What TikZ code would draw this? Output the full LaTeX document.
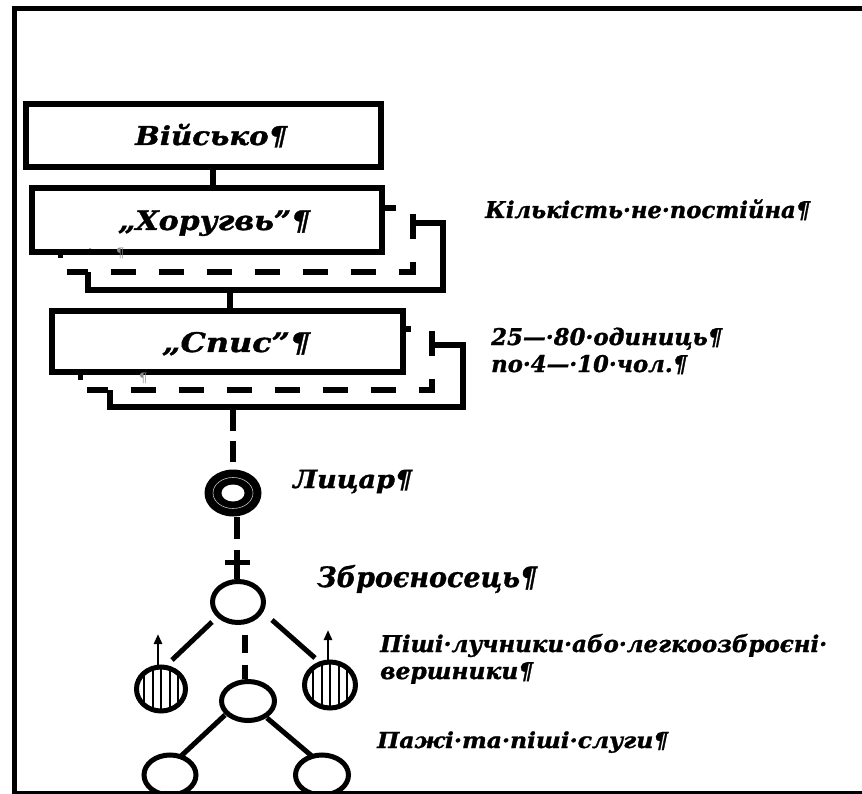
\documentclass[tikz,border=0pt]{standalone}
\usepackage{fontspec}
\setmainfont{DejaVu Serif}
\usetikzlibrary{shapes.geometric,arrows.meta,calc}
\newsavebox\fitbox
\newcommand\fitw[2]{\sbox\fitbox{#2}\pgfmathsetmacro\fitsx{#1/\the\wd\fitbox}\scalebox{\fitsx}[1]{\usebox\fitbox}}
\begin{document}
\begin{tikzpicture}[x=1pt,y=-1pt,
  frame/.style={line width=5pt},
  box/.style={draw, rectangle, line width=6pt, fill=white, inner sep=0pt},
  dfill/.style={rectangle, fill=white, inner sep=0pt},
  dline/.style={line width=5.5pt, dash pattern=on 25pt off 23pt, dash phase=4pt},
  conn/.style={line width=6pt},
  circ/.style={ellipse, draw, line width=5pt, fill=white, inner sep=0pt},
  hatch/.style={circ, path picture={\foreach \dx in {-17,-8.5,0,8.5,17}{\draw[line width=2pt] ([xshift=\dx pt]path picture bounding box.north) -- ([xshift=\dx pt]path picture bounding box.south);}}},
  arr/.style={line width=2.6pt, -{Triangle[length=10pt,width=8pt]}},
  lbl/.style={anchor=base west, inner sep=0pt, font=\bfseries\itshape\addfontfeatures{FakeBold=1.2}},
  fmark/.style={anchor=base west, inner sep=0pt, text=black!45, font=\fontsize{13}{14}\selectfont}
]
\useasboundingbox (0,0) rectangle (862,794);
\fill[white] (0,0) rectangle (862,794);

% frame
\draw[frame] (862,9) -- (14,9) -- (14,792);

% Військо
\node[box, minimum width=355pt, minimum height=63pt] (vijsko) at (203.5,135.5) {};
\node[lbl] (tvijsko) at (135,145) {\fontsize{26}{28}\selectfont\fitw{152}{Військо¶}};

% Хоругвь group
\node[box, minimum width=355pt, minimum height=67pt] (khorB) at (265.5,256.5) {};
\node[dfill, minimum width=346pt, minimum height=64pt] (khorD) at (240,240) {};
\draw[dline] (khorD.south west) -- (khorD.south east) -- (khorD.north east) -- (khorD.north west);
\node[box, minimum width=350pt, minimum height=64pt] (khorF) at (207,220) {};
\node[lbl] (tkhor) at (118,230) {\fontsize{27}{29}\selectfont\fitw{192}{„Хоругвь”¶}};
\node[fmark] (mkhor) at (116,258) {¶};
\fill (58,253) rectangle (63,258);
\fill (90,251) circle (2.5);

% Спис group
\node[box, minimum width=353pt, minimum height=62pt] (spisB) at (286.5,376) {};
\node[dfill, minimum width=345pt, minimum height=61pt] (spisD) at (259.5,359.5) {};
\draw[dline] (spisD.south west) -- (spisD.south east) -- (spisD.north east) -- (spisD.north west);
\node[box, minimum width=351pt, minimum height=61pt] (spisF) at (227.5,341.5) {};
\node[lbl] (tspis) at (162,352) {\fontsize{27}{29}\selectfont\fitw{148}{„Спис”¶}};
\node[fmark] (mspis) at (139,382) {¶};
\fill (78,375) rectangle (83,380);
\fill (112,372) circle (2.5);

% vertical connectors between boxes
\coordinate (c1) at (213,0);
\coordinate (c2) at (230,0);
\draw[conn] (vijsko.south -| c1) -- (khorF.north -| c1);
\draw[conn] (khorB.south -| c2) -- (spisF.north -| c2);

% right labels
\node[lbl] (tkil) at (485,218) {\fontsize{23}{25}\selectfont\fitw{325}{Кількість·не·постійна¶}};
\node[lbl] (t25) at (491,345) {\fontsize{23}{25}\selectfont\fitw{231}{25—·80·одиниць¶}};
\node[lbl] (tpo) at (491,372) {\fontsize{23}{25}\selectfont\fitw{196}{по·4—·10·чол.¶}};

% Лицар
\node[ellipse, fill=black, minimum width=57pt, minimum height=47pt, inner sep=0pt] (lyc) at (233,493) {};
\node[ellipse, draw=white!75!black, line width=0.6pt, minimum width=40pt, minimum height=31pt, inner sep=0pt] (lycring) at (lyc) {};
\node[ellipse, fill=white, minimum width=23pt, minimum height=17pt, inner sep=0pt] (lycin) at (lyc) {};
\node[lbl] (tlyc) at (293,488) {\fontsize{25}{27}\selectfont\fitw{119}{Лицар¶}};
\draw[conn, dash pattern=on 21pt off 10pt] (spisB.south -| lyc) -- (lyc.north);

% Зброєносець
\node[circ, minimum width=51pt, minimum height=41pt] (zbro) at (238,602) {};
\coordinate (crossTop) at (237,550);
\draw[conn, dash pattern=on 22pt off 12pt] (lyc.south -| crossTop) -- (crossTop);
\draw[conn] (crossTop) -- (zbro.north -| crossTop);
\draw[line width=5pt] ($(crossTop)+(-12,12)$) -- ($(crossTop)+(13,12)$);
\node[lbl] (tzbro) at (317,587) {\fontsize{28}{30}\selectfont\fitw{220}{Зброєносець¶}};

% archers
\node[hatch, minimum width=49pt, minimum height=44pt] (archL) at (161,689) {};
\node[hatch, minimum width=51pt, minimum height=46pt] (archR) at (330,685) {};
\coordinate (aL) at (158,634);
\coordinate (aR) at (328,630);
\draw[arr] (archL.north -| aL) -- (aL);
\draw[arr] (archR.north -| aR) -- (aR);
\draw[conn, line width=5pt] ($(zbro)+(-26,20)$) -- ($(archL)+(11,-29)$);
\draw[conn, line width=5pt] ($(zbro)+(34,18)$) -- ($(archR)+(-15,-27)$);
\node[lbl] (tpishi) at (380,652) {\fontsize{23}{25}\selectfont\fitw{447}{Піші·лучники·або·легкоозброєні·}};
\node[lbl] (tversh) at (380,679) {\fontsize{23}{25}\selectfont\fitw{153}{вершники¶}};

% pages / servants
\node[circ, minimum width=53pt, minimum height=39pt] (mid) at (248,701) {};
\coordinate (mx) at (245,0);
\draw[conn, dash pattern=on 18pt off 12pt, dash phase=20.5pt] (zbro.south -| mx) -- (mid.north -| mx);
\begin{scope}
\clip (0,0) rectangle (862,792);
\node[circ, minimum width=52pt, minimum height=40pt] (botL) at (170,775) {};
\node[circ, minimum width=53pt, minimum height=40pt] (botR) at (322,775) {};
\end{scope}
\draw[conn, line width=5pt] ($(mid)+(-23,14)$) -- ($(botL)+(10,-18)$);
\draw[conn, line width=5pt] ($(mid)+(19,17)$) -- ($(botR)+(-9,-18)$);
\draw[line width=3pt] (12,792) -- (862,792);
\node[lbl] (tpazhi) at (377,748) {\fontsize{22}{24}\selectfont\fitw{291}{Пажі·та·піші·слуги¶}};
\end{tikzpicture}
\end{document}
